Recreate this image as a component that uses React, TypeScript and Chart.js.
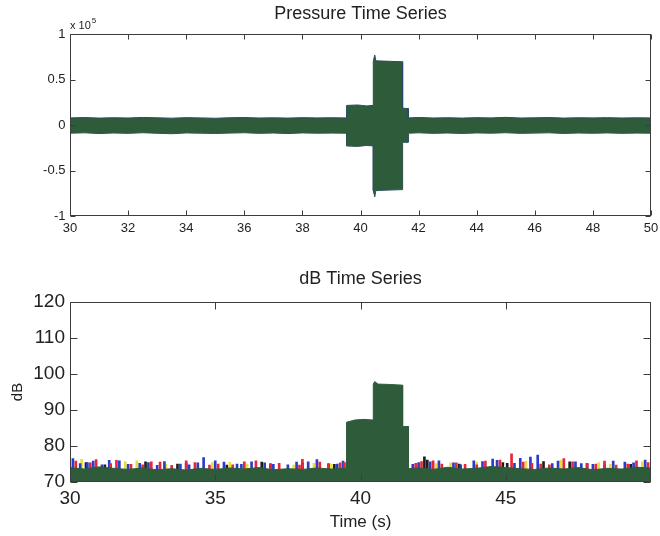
import React, { useEffect, useRef } from "react";
import { Chart, registerables } from "chart.js";

Chart.register(...registerables);

// ---------- Data ----------
const pressureTimes = [
  30, 30.5, 31, 31.5, 32, 32.5, 33, 33.5, 34, 34.5, 35, 35.5, 36, 36.5, 37, 37.5, 38, 38.5, 39, 39.52,
  39.52, 39.9, 40.2, 40.44,
  40.44, 40.49, 40.53, 41.0, 41.45,
  41.45, 41.65,
  41.65, 42, 42.5, 43, 43.5, 44, 44.5, 45, 45.5, 46, 46.5, 47, 47.5, 48, 48.5, 49, 49.5, 50,
];
const pressureUpper = [
  7800, 8200, 7600, 8000, 7700, 8300, 7900, 7500, 8100, 7800, 7400, 8000, 8200, 7700, 7900, 7600, 8100, 7800, 8000, 7800,
  21500, 22000, 21000, 21500,
  70000, 77000, 70500, 70000, 69500,
  18500, 18000,
  7800, 8300, 7700, 8000, 7600, 8100, 7800, 8400, 7700, 7900, 8200, 7600, 8000, 7800, 8100, 7700, 7900, 7800,
];
const pressureLower = [
  -9000, -8600, -9400, -8800, -9200, -8500, -9100, -9600, -8700, -9000, -9300, -8900, -8500, -9200, -8800, -9400, -8700, -9000, -8900, -9000,
  -23000, -23500, -22500, -23000,
  -72000, -79000, -72000, -71500, -71000,
  -19000, -19000,
  -9000, -8600, -9200, -8800, -9300, -8700, -9000, -8500, -9200, -8900, -8600, -9300, -8800, -9100, -8700, -9200, -8900, -9000,
];
const pressureXTicks = [30, 32, 34, 36, 38, 40, 42, 44, 46, 48, 50];

const dbTimes = [
  30, 30.5, 31, 31.5, 32, 32.5, 33, 33.5, 34, 34.5, 35, 35.5, 36, 36.5, 37, 37.5, 38, 38.5, 39, 39.5,
  39.52, 39.52, 39.8, 40.1, 40.44, 40.44, 40.49, 40.6, 41.0, 41.45, 41.45, 41.65, 41.65,
  42, 42.5, 43, 43.5, 44, 44.5, 45, 45.5, 46, 46.5, 47, 47.5, 48, 48.5, 49, 49.5, 50,
];
const dbLevels = [
  74.0, 73.6, 74.2, 73.8, 73.5, 73.9, 73.4, 73.7, 73.3, 73.8, 73.5, 73.9, 73.6, 74.0, 73.4, 73.7, 73.5, 73.9, 73.6, 73.8,
  73.8, 86.6, 87.2, 87.4, 87.2, 97.2, 97.9, 97.2, 97.1, 96.9, 85.4, 85.4, 73.7,
  73.9, 73.5, 74.1, 73.6, 73.8, 74.3, 74.0, 73.7, 73.5, 73.9, 73.6, 74.0, 73.4, 73.8, 73.6, 74.1, 73.9,
];
const redTimes = [
  30.2, 30.9, 31.4, 32.1, 32.8, 33.5, 34.3, 35.1, 35.6, 36.4, 37.2, 37.9, 38.6, 39.3, 42.1, 42.8, 43.6, 44.3, 45.2, 45.9, 46.5, 47.3, 48.1, 48.8, 49.5,
  30.7, 31.6, 32.5, 33.1, 34.0, 34.8, 36.0, 36.9, 38.0, 38.9, 39.45, 41.9, 42.5, 43.3, 44.0, 44.8, 45.6, 46.2, 47.0, 47.8, 48.4, 49.2, 49.9,
];
const redValues = [
  75.8, 76.2, 75.1, 74.9, 75.6, 74.6, 75.4, 75.0, 74.8, 75.9, 75.2, 74.7, 75.5, 75.3, 75.7, 75.0, 74.9, 75.8, 77.8, 75.2, 74.8, 75.6, 75.0, 74.7, 75.9,
  75.3, 76.0, 74.8, 75.5, 75.9, 74.7, 75.6, 75.1, 76.3, 74.9, 75.4, 75.2, 75.9, 75.3, 74.8, 76.1, 75.5, 75.0, 76.5, 75.2, 75.8, 75.0, 75.4,
];
const blueTimes = [
  30.1, 30.6, 31.1, 31.7, 32.4, 33.0, 33.8, 34.6, 35.3, 35.9, 36.7, 37.5, 38.2, 38.9, 39.4, 41.8, 42.4, 43.2, 43.9, 44.7, 45.5, 46.1, 46.8, 47.6, 48.4, 49.1, 49.8,
  30.35, 30.8, 31.35, 32.0, 32.7, 33.25, 34.1, 34.4, 35.0, 35.75, 36.25, 37.0, 37.8, 38.5, 39.2, 42.0, 42.7, 43.45, 44.2, 44.55, 45.3, 45.85, 46.6, 47.4, 48.0, 48.7, 49.4,
];
const blueValues = [
  76.5, 75.4, 74.8, 75.9, 75.2, 74.6, 75.0, 76.8, 75.5, 74.9, 75.3, 74.8, 75.6, 75.1, 75.8, 74.9, 75.6, 75.3, 75.9, 76.0, 76.6, 77.5, 75.8, 75.1, 74.8, 75.5, 76.1,
  75.1, 75.8, 76.0, 74.9, 75.4, 75.7, 74.8, 75.3, 75.9, 75.0, 75.6, 74.9, 75.5, 76.2, 75.0, 75.4, 75.9, 74.8, 75.7, 76.4, 75.2, 76.9, 75.1, 75.6, 74.9, 75.8, 75.3,
];
const yellowTimes = [30.4, 31.9, 33.3, 34.9, 36.1, 37.7, 38.4, 42.6, 44.0, 45.7, 47.0, 48.6, 49.7, 32.3, 35.5, 39.0, 43.1, 46.9, 48.2];
const yellowValues = [76.3, 75.7, 74.9, 75.4, 75.0, 74.7, 75.2, 75.1, 75.5, 75.8, 75.2, 74.9, 75.6, 75.9, 75.5, 75.0, 75.3, 76.1, 75.4];
const blackTimes = [31.2, 32.6, 34.0, 35.4, 36.9, 38.0, 39.1, 42.3, 43.4, 44.9, 46.3, 47.8, 49.3, 30.55, 33.7, 36.6, 42.2, 45.05, 47.2];
const blackValues = [74.8, 75.6, 75.2, 74.7, 75.0, 75.3, 74.9, 76.1, 75.0, 75.4, 75.7, 75.1, 74.9, 75.4, 75.0, 75.5, 77.0, 75.2, 75.6];
const dbXTicks = [30, 35, 40, 45];

// ---------- Styles ----------
const FONT = "'Liberation Sans', Arial, Helvetica, sans-serif";
const GREEN = "#2e5b3a";
const EDGE = "#2b4a66";
const AXIS = "#3c3c3c";
const TEXT = "#222222";

Chart.defaults.font.family = FONT;

const pts = (xs: number[], ys: number[]) => xs.map((x, i) => ({ x, y: ys[i] }));

const boxPlugin = (len: number) => ({
  id: "matlabBox",
  afterDatasetsDraw(chart: any) {
    const { ctx, chartArea: a, scales } = chart;
    const xs = scales.x;
    const ys = scales.y;
    ctx.save();
    ctx.strokeStyle = AXIS;
    ctx.lineWidth = 1;
    const L = Math.round(a.left) + 0.5;
    const R = Math.round(a.right) - 0.5;
    const T = Math.round(a.top) + 0.5;
    const B = Math.round(a.bottom) - 0.5;
    ctx.strokeRect(L, T, R - L, B - T);
    ctx.beginPath();
    xs.ticks.forEach((t: any) => {
      const px = Math.round(xs.getPixelForValue(t.value)) + 0.5;
      ctx.moveTo(px, B);
      ctx.lineTo(px, B - len);
      ctx.moveTo(px, T);
      ctx.lineTo(px, T + len);
    });
    ys.ticks.forEach((t: any) => {
      const py = Math.round(ys.getPixelForValue(t.value)) + 0.5;
      ctx.moveTo(L, py);
      ctx.lineTo(L + len, py);
      ctx.moveTo(R, py);
      ctx.lineTo(R - len, py);
    });
    ctx.stroke();
    ctx.restore();
  },
});

const exponentPlugin = {
  id: "exponent",
  afterDraw(chart: any) {
    const { ctx, chartArea: a } = chart;
    ctx.save();
    ctx.fillStyle = TEXT;
    ctx.textBaseline = "alphabetic";
    ctx.textAlign = "left";
    ctx.font = `11px ${FONT}`;
    const base = "x 10";
    ctx.fillText(base, a.left, a.top - 5);
    const w = ctx.measureText(base).width;
    ctx.font = `8px ${FONT}`;
    ctx.fillText("5", a.left + w + 1, a.top - 11);
    ctx.restore();
  },
};

const fitX = (h: number) => (s: any) => {
  s.height = h;
  s.paddingLeft = 0;
  s.paddingRight = 0;
};
const fitY = (w: number) => (s: any) => {
  s.width = w;
  s.paddingTop = 0;
  s.paddingBottom = 0;
};

export default function App() {
  const topRef = useRef<HTMLCanvasElement>(null);
  const botRef = useRef<HTMLCanvasElement>(null);

  useEffect(() => {
    const top = new Chart(topRef.current!, {
      type: "line",
      data: {
        datasets: [
          {
            data: pts(pressureTimes, pressureUpper),
            borderColor: EDGE,
            borderWidth: 1,
            backgroundColor: GREEN,
            fill: "+1",
            pointRadius: 0,
            tension: 0,
          },
          {
            data: pts(pressureTimes, pressureLower),
            borderColor: EDGE,
            borderWidth: 1,
            backgroundColor: GREEN,
            fill: false,
            pointRadius: 0,
            tension: 0,
          },
        ],
      },
      options: {
        animation: false,
        responsive: false,
        events: [],
        layout: { padding: { left: 0, right: 9, top: 0, bottom: 0 } },
        plugins: {
          legend: { display: false },
          tooltip: { enabled: false },
          title: {
            display: true,
            text: "Pressure Time Series",
            fullSize: false,
            color: TEXT,
            font: { size: 18, weight: "normal" },
            padding: { top: 3, bottom: 9.4 },
          },
        },
        scales: {
          x: {
            type: "linear",
            min: 30,
            max: 50,
            grid: { display: false, drawTicks: false },
            border: { display: false },
            afterBuildTicks: (s: any) => {
              s.ticks = pressureXTicks.map((v) => ({ value: v }));
            },
            afterFit: fitX(29),
            ticks: { color: TEXT, font: { size: 13 }, padding: 4.5, maxRotation: 0, autoSkip: false },
          },
          y: {
            type: "linear",
            min: -100000,
            max: 100000,
            grid: { display: false, drawTicks: false },
            border: { display: false },
            afterFit: fitY(70),
            ticks: {
              stepSize: 50000,
              color: TEXT,
              font: { size: 13 },
              padding: 4.5,
              callback: (v: any) => String(Number(v) / 100000),
            },
          },
        },
      },
      plugins: [boxPlugin(5), exponentPlugin],
    } as any);

    const spike = (xs: number[], ys: number[], color: string) => ({
      type: "bar",
      data: pts(xs, ys),
      backgroundColor: color,
      borderWidth: 0,
      barThickness: 2,
      grouped: false,
      order: 2,
    });

    const bottom = new Chart(botRef.current!, {
      type: "line",
      data: {
        datasets: [
          {
            type: "line",
            data: pts(dbTimes, dbLevels),
            borderColor: GREEN,
            borderWidth: 1,
            backgroundColor: GREEN,
            fill: { value: 70 },
            pointRadius: 0,
            tension: 0,
            order: 0,
          },
          spike(redTimes, redValues, "#e3283a"),
          spike(blueTimes, blueValues, "#2a3cc8"),
          spike(yellowTimes, yellowValues, "#e6e03a"),
          spike(blackTimes, blackValues, "#1e1e1e"),
        ],
      },
      options: {
        animation: false,
        responsive: false,
        events: [],
        layout: { padding: { left: 0, right: 9, top: 0, bottom: 0 } },
        plugins: {
          legend: { display: false },
          tooltip: { enabled: false },
          title: {
            display: true,
            text: "dB Time Series",
            fullSize: false,
            color: TEXT,
            font: { size: 18, weight: "normal" },
            padding: { top: 23.2, bottom: 12.2 },
          },
        },
        scales: {
          x: {
            type: "linear",
            min: 30,
            max: 50,
            offset: false,
            grid: { display: false, drawTicks: false, offset: false },
            border: { display: false },
            afterBuildTicks: (s: any) => {
              s.ticks = dbXTicks.map((v) => ({ value: v }));
            },
            afterFit: fitX(54),
            ticks: { color: TEXT, font: { size: 19 }, padding: 5, maxRotation: 0, autoSkip: false },
            title: {
              display: true,
              text: "Time (s)",
              color: TEXT,
              font: { size: 17 },
              padding: { top: 0, bottom: 3 },
            },
          },
          y: {
            type: "linear",
            min: 70,
            max: 120,
            grid: { display: false, drawTicks: false },
            border: { display: false },
            afterFit: fitY(70),
            ticks: { stepSize: 10, color: TEXT, font: { size: 19 }, padding: 5 },
            title: {
              display: true,
              text: "dB",
              color: TEXT,
              font: { size: 15 },
              padding: { top: 9, bottom: 0 },
            },
          },
        },
      },
      plugins: [boxPlugin(7)],
    } as any);

    return () => {
      top.destroy();
      bottom.destroy();
    };
  }, []);

  return (
    <div style={{ position: "fixed", left: 0, top: 0, width: 660, height: 536, background: "#fff" }}>
      <canvas ref={topRef} width={660} height={245} style={{ position: "absolute", left: 0, top: 0 }} />
      <canvas ref={botRef} width={660} height={291} style={{ position: "absolute", left: 0, top: 245 }} />
    </div>
  );
}
